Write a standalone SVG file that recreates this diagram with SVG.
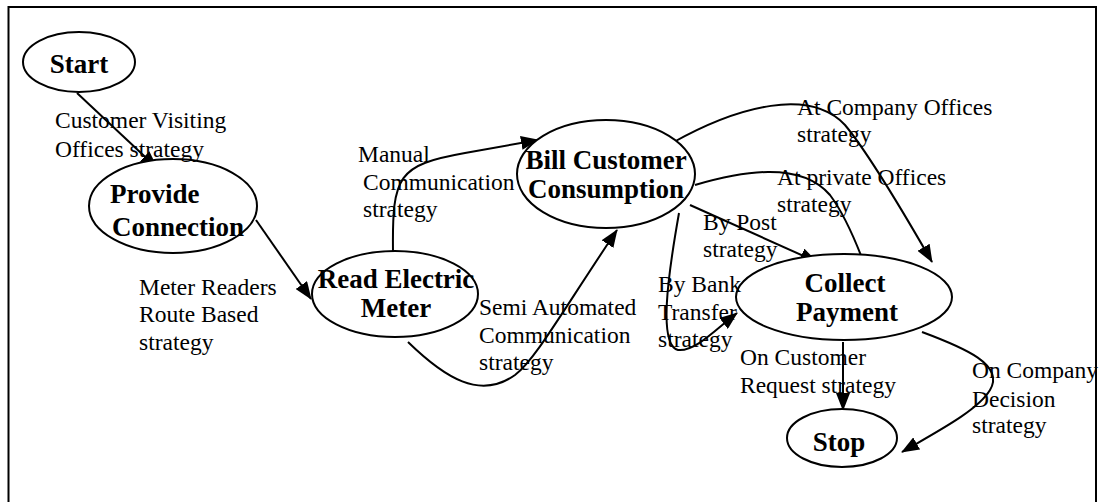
<svg xmlns="http://www.w3.org/2000/svg" width="1099" height="502" viewBox="0 0 1099 502">
<style>
.node ellipse{fill:#fff;stroke:#000;stroke-width:2}
.nt{font-family:"Liberation Serif","Times New Roman",serif;font-weight:bold;font-size:27px;fill:#000}
.lb{font-family:"Liberation Serif","Times New Roman",serif;font-size:23.5px;fill:#000}
.edge{fill:none;stroke:#000;stroke-width:2}
</style>
<defs>
<marker id="arr" markerWidth="18" markerHeight="14" refX="17" refY="7" orient="auto" markerUnits="userSpaceOnUse">
<path d="M0,0 L18,7 L0,14 Z" fill="#000"/>
</marker>
</defs>
<rect x="0" y="0" width="1099" height="502" fill="#fff"/>
<rect x="8.5" y="7" width="1087.5" height="498" fill="none" stroke="#000" stroke-width="2"/>

<g id="connectors">
<path class="edge" d="M77,93 L157,168" marker-end="url(#arr)"/>
<path class="edge" d="M256,220 L311,299" marker-end="url(#arr)"/>
<path class="edge" d="M393,252 C392,175 398,165 465,153 L538,140" marker-end="url(#arr)"/>
<path class="edge" d="M408,342 C445,378 480,400 515,375 C535,360 560,315 617,230" marker-end="url(#arr)"/>
<path class="edge" d="M672,143 C740,105 810,88 845,125 C870,155 905,215 932,262" marker-end="url(#arr)"/>
<path class="edge" d="M695,185 C740,172 800,160 830,195 C845,215 855,240 862,258"/>
<path class="edge" d="M690,205 L817,262" marker-end="url(#arr)"/>
<path class="edge" d="M679,213 C668,275 658,345 678,350 C695,352 715,330 737,313" marker-end="url(#arr)"/>
<path class="edge" d="M843,342 L843,410" marker-end="url(#arr)"/>
<path class="edge" d="M922,332 C965,348 1005,365 990,390 C978,410 940,430 902,452" marker-end="url(#arr)"/>
</g>

<g id="start" class="node">
<ellipse cx="79" cy="62" rx="56" ry="30"/>
<text class="nt" x="79" y="73" text-anchor="middle">Start</text>
</g>
<g id="provide" class="node">
<ellipse cx="173" cy="206" rx="84" ry="47"/>
<text class="nt" x="110" y="203">Provide</text>
<text class="nt" x="112" y="236">Connection</text>
</g>
<g id="read" class="node">
<ellipse cx="395" cy="294" rx="83" ry="43"/>
<text class="nt" x="396" y="288" text-anchor="middle">Read Electric</text>
<text class="nt" x="396" y="317" text-anchor="middle">Meter</text>
</g>
<g id="bill" class="node">
<ellipse cx="606" cy="174" rx="89" ry="54"/>
<text class="nt" x="606" y="169" text-anchor="middle">Bill Customer</text>
<text class="nt" x="606" y="198" text-anchor="middle">Consumption</text>
</g>
<g id="collect" class="node">
<ellipse cx="844" cy="297" rx="108" ry="43"/>
<text class="nt" x="845" y="292" text-anchor="middle">Collect</text>
<text class="nt" x="847" y="321" text-anchor="middle">Payment</text>
</g>
<g id="stop" class="node">
<ellipse cx="842" cy="438" rx="55" ry="29"/>
<text class="nt" x="839" y="451" text-anchor="middle">Stop</text>
</g>

<g id="labels">
<text class="lb" x="55" y="128">Customer Visiting</text>
<text class="lb" x="55" y="157">Offices strategy</text>
<text class="lb" x="358" y="162">Manual</text>
<text class="lb" x="363" y="190">Communication</text>
<text class="lb" x="363" y="217">strategy</text>
<text class="lb" x="139" y="295">Meter Readers</text>
<text class="lb" x="139" y="322">Route Based</text>
<text class="lb" x="139" y="350">strategy</text>
<text class="lb" x="479" y="315">Semi Automated</text>
<text class="lb" x="479" y="343">Communication</text>
<text class="lb" x="479" y="370">strategy</text>
<text class="lb" x="797" y="115">At Company Offices</text>
<text class="lb" x="797" y="142">strategy</text>
<text class="lb" x="777" y="185">At private Offices</text>
<text class="lb" x="777" y="212">strategy</text>
<text class="lb" x="703" y="230">By Post</text>
<text class="lb" x="703" y="257">strategy</text>
<text class="lb" x="658" y="292">By Bank</text>
<text class="lb" x="658" y="320">Transfer</text>
<text class="lb" x="658" y="347">strategy</text>
<text class="lb" x="740" y="365">On Customer</text>
<text class="lb" x="740" y="393">Request strategy</text>
<text class="lb" x="972" y="378">On Company</text>
<text class="lb" x="972" y="407">Decision</text>
<text class="lb" x="972" y="433">strategy</text>
</g>
</svg>
